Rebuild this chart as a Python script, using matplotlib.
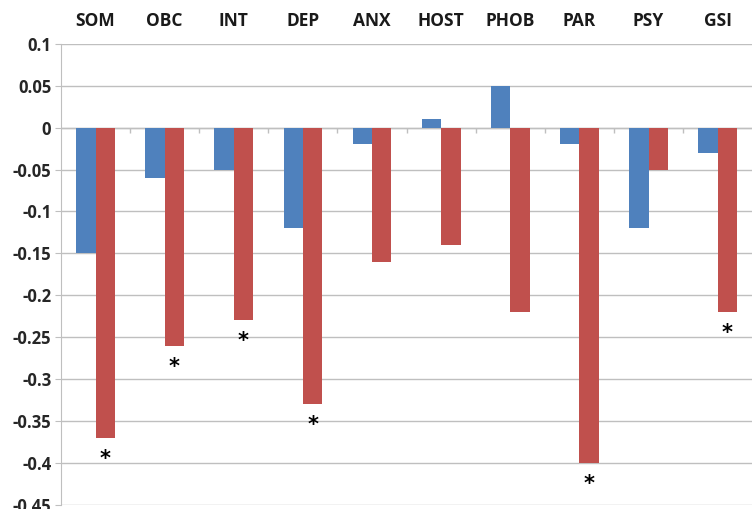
import matplotlib.pyplot as plt
import numpy as np

# data
scales = ["SOM", "OBC", "INT", "DEP", "ANX", "HOST", "PHOB", "PAR", "PSY", "GSI"]
blue_vals = [-0.15, -0.06, -0.05, -0.12, -0.02, 0.01, 0.05, -0.02, -0.12, -0.03]
red_vals = [-0.37, -0.26, -0.23, -0.33, -0.16, -0.14, -0.22, -0.40, -0.05, -0.22]
signif = [True, True, True, True, False, False, False, True, False, True]

plt.rcParams['font.family'] = ['Open Sans', 'DejaVu Sans']

fig = plt.figure(figsize=(7.53, 5.09), dpi=100)
ax = fig.add_axes([0.081, 0.008, 0.918, 0.906])

x = np.arange(len(scales))
w = 0.28
ax.bar(x - w / 2, blue_vals, width=w, color="#4F81BD", zorder=3)
ax.bar(x + w / 2, red_vals, width=w, color="#C0504D", zorder=3)

# asterisks under significant red bars
for i in range(len(scales)):
    if signif[i]:
        ax.text(x[i] + w / 2, red_vals[i] - 0.025, "*", ha="center", va="center",
                fontsize=15, fontweight="bold", color="black", family="DejaVu Sans")

ax.set_xlim(-0.5, len(scales) - 0.5)
ax.set_ylim(-0.45, 0.1)
yt = np.arange(-0.45, 0.1001, 0.05)
ax.set_yticks(yt)
ax.set_yticklabels(["0" if abs(v) < 1e-9 else ("%.2f" % v).rstrip("0") for v in yt],
                   fontsize=12, fontweight="bold", color="#262626")
ax.grid(axis="y", color="#BFBFBF", linewidth=1, zorder=0)
ax.tick_params(axis="y", length=4, color="#BFBFBF", pad=3)

# category labels on top
ax.xaxis.tick_top()
ax.set_xticks(x)
ax.set_xticklabels(scales, fontsize=12.5, fontweight="bold", color="#1a1a1a")
ax.tick_params(axis="x", length=0, pad=10)

# small tick marks on zero line between categories
ax.vlines(np.arange(len(scales) - 1) + 0.5, -0.006, 0, color="#BFBFBF", linewidth=1, zorder=2)
ax.axhline(0, color="#BFBFBF", linewidth=1, zorder=2)

for s in ["top", "right", "bottom"]:
    ax.spines[s].set_visible(False)
ax.spines["left"].set_color("#BFBFBF")

fig.savefig("out.png", dpi=100)
